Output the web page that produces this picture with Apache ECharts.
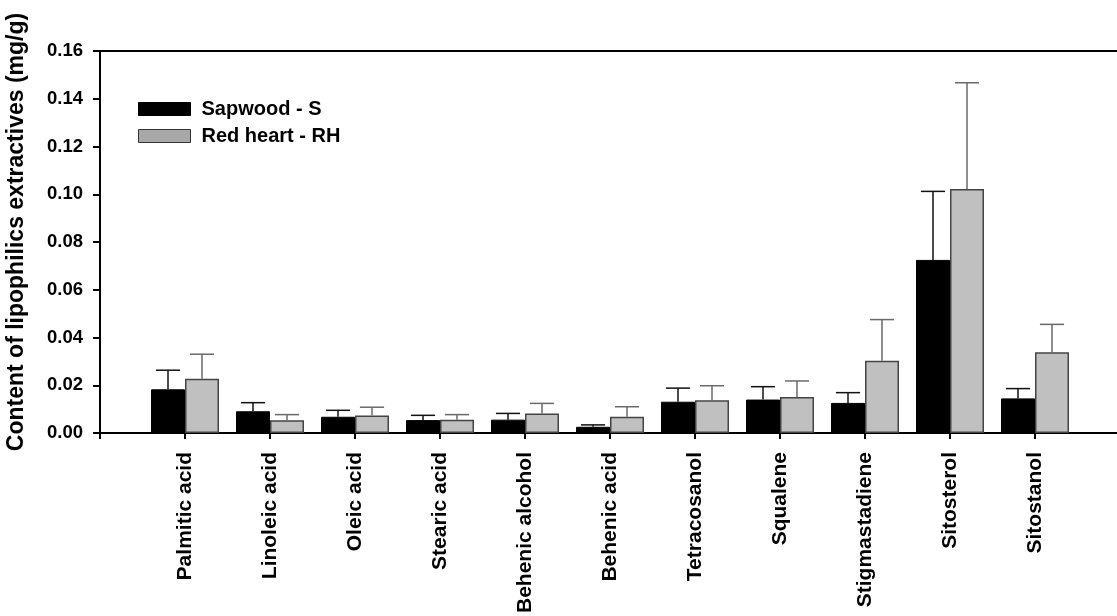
<!DOCTYPE html>
<html>
<head>
<meta charset="utf-8">
<script src="https://cdn.jsdelivr.net/npm/echarts@6/dist/echarts.min.js"></script>
<style>
html,body{margin:0;padding:0;background:#fff;}
#chart{width:1117px;height:616px;}
</style>
</head>
<body>
<div id="chart"></div>
<script>
var categories = ['Palmitic acid','Linoleic acid','Oleic acid','Stearic acid','Behenic alcohol','Behenic acid','Tetracosanol','Squalene','Stigmastadiene','Sitosterol','Sitostanol'];
var sapwood    = [0.0183, 0.0091, 0.0068, 0.0054, 0.0056, 0.0026, 0.0131, 0.0140, 0.0126, 0.0725, 0.0145];
var sapwoodErr = [0.0080, 0.0036, 0.0027, 0.0020, 0.0026, 0.0008, 0.0057, 0.0054, 0.0043, 0.0287, 0.0041];
var redHeart    = [0.0227, 0.0053, 0.0073, 0.0056, 0.0082, 0.0068, 0.0137, 0.0151, 0.0303, 0.1022, 0.0338];
var redHeartErr = [0.0103, 0.0024, 0.0035, 0.0021, 0.0042, 0.0042, 0.0061, 0.0067, 0.0172, 0.0445, 0.0117];
var seriesNames = ['Sapwood - S', 'Red heart - RH'];
var yTitle = 'Content of lipophilics extractives (mg/g)';

var FONT = '"Liberation Sans", Arial, sans-serif';
// padded category list: blank slot at each end
var axisCats = [''].concat(categories, ['']);
function pad(arr){ return [null].concat(arr, [null]); }
function errData(vals, errs){
  return vals.map(function(v, i){ return [i + 1, v, v + errs[i]]; });
}
function errRender(side, color){
  return function(params, api){
    var x = api.value(0);
    var p0 = api.coord([x, api.value(1)]);
    var p1 = api.coord([x, api.value(2)]);
    var band = api.size([1, 0])[0];
    var cx = p0[0] + side * band * 0.2;
    var half = band * 0.142;
    return {
      type: 'group',
      children: [
        {type:'line', shape:{x1:cx, y1:p0[1], x2:cx, y2:p1[1]}, style:{stroke:color, lineWidth:1.5}},
        {type:'line', shape:{x1:cx-half, y1:p1[1], x2:cx+half, y2:p1[1]}, style:{stroke:color, lineWidth:1.5}}
      ]
    };
  };
}

var chart = echarts.init(document.getElementById('chart'));
chart.setOption({
  animation: false,
  backgroundColor: '#fff',
  grid: {left: 100, top: 51, bottom: 183, right: -3, outerBoundsMode: 'none', containLabel: false,
    show: true, borderColor: '#000', borderWidth: 2, backgroundColor: 'transparent'},
  legend: {
    orient: 'vertical', left: 138, top: 99, padding: 0, itemGap: 7,
    itemWidth: 52, itemHeight: 13, icon: 'rect', selectedMode: false,
    textStyle: {fontFamily: FONT, fontWeight: 'bold', fontSize: 20, color: '#000', lineHeight: 20, padding: [0,0,0,6]},
    data: [
      {name: seriesNames[0], itemStyle: {color: '#000', borderColor: '#000', borderWidth: 1}},
      {name: seriesNames[1], itemStyle: {color: '#a8a8a8', borderColor: '#333', borderWidth: 1}}
    ]
  },
  xAxis: {
    type: 'category', data: axisCats, boundaryGap: false,
    axisLine: {lineStyle: {color: '#000', width: 2}},
    axisTick: {show: true, length: 6, lineStyle: {color: '#000', width: 2}, interval: 0},
    axisLabel: {interval: 0, rotate: 90, margin: 19, fontFamily: FONT, fontWeight: 'bold', fontSize: 21, color: '#000'},
    splitLine: {show: false}
  },
  yAxis: {
    type: 'value', min: 0, max: 0.16, interval: 0.02,
    name: yTitle, nameLocation: 'middle', nameGap: 72,
    nameTextStyle: {fontFamily: FONT, fontWeight: 'bold', fontSize: 23, color: '#000', padding: [0,0,0,20]},
    axisLine: {show: true, lineStyle: {color: '#000', width: 2}},
    axisTick: {show: true, length: 7, lineStyle: {color: '#000', width: 2}},
    axisLabel: {margin: 17, fontFamily: FONT, fontWeight: 'bold', fontSize: 18.5, color: '#000',
      formatter: function(v){ return v.toFixed(2); }},
    splitLine: {show: false}
  },
  series: [
    {name: seriesNames[0], type: 'bar', data: pad(sapwood), barWidth: 34, barGap: '0%',
      itemStyle: {color: '#000', borderColor: '#000', borderWidth: 1}},
    {name: seriesNames[1], type: 'bar', data: pad(redHeart), barWidth: 34, barGap: '0%',
      itemStyle: {color: '#c0c0c0', borderColor: '#444', borderWidth: 1.5}},
    {type: 'custom', data: errData(sapwood, sapwoodErr), renderItem: errRender(-1, '#111'), z: 5,
      encode: {x: 0, y: [1, 2]}, silent: true},
    {type: 'custom', data: errData(redHeart, redHeartErr), renderItem: errRender(1, '#6a6a6a'), z: 5,
      encode: {x: 0, y: [1, 2]}, silent: true}
  ]
});
</script>
</body>
</html>
